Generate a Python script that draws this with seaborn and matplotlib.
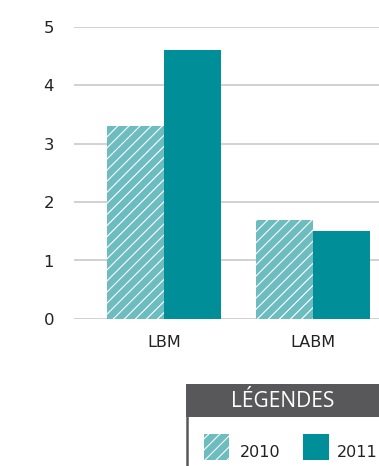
import matplotlib
matplotlib.use("Agg")
import matplotlib.pyplot as plt
import seaborn as sns
import pandas as pd
from matplotlib.patches import Rectangle
from matplotlib.lines import Line2D

categories = ["LBM", "LABM"]
years = ["2010", "2011"]
values_2010 = [3.3, 1.7]
values_2011 = [4.6, 1.5]
yticks = [0, 1, 2, 3, 4, 5]

color_2010 = "#6dbcc0"
color_2011 = "#008f98"

DPI = 133
W, H = 379, 466

def pt(px):
    return px * 72.0 / DPI

df = pd.DataFrame({
    "cat": categories * 2,
    "year": [years[0]] * 2 + [years[1]] * 2,
    "val": values_2010 + values_2011,
})

sns.set_theme(style="white")
plt.rcParams["font.family"] = ["DejaVu Sans"]
plt.rcParams["hatch.linewidth"] = 0.6

fig = plt.figure(figsize=((W + 0.4) / DPI, (H + 0.4) / DPI), dpi=DPI)
ax = fig.add_axes([74 / W, (H - 319) / H, 1 - 74 / W, 292 / H])

sns.barplot(data=df, x="cat", y="val", hue="year", order=categories,
            hue_order=years, palette=[color_2010, color_2011],
            width=0.77, ax=ax, legend=False, saturation=1, linewidth=0)

for bar in ax.containers[0]:
    bar.set_hatch("////")
    bar.set_edgecolor("white")
    bar.set_linewidth(0)

ax.set_xlim(-0.606, 1.448)
ax.set_ylim(0, 5)
ax.set_yticks(yticks)
ax.set_yticklabels([str(v) for v in yticks])
ax.yaxis.grid(True, color="#c8c8c8", linewidth=pt(1.6))
ax.set_axisbelow(True)
for s in ax.spines.values():
    s.set_visible(False)
ax.tick_params(axis="y", length=0, pad=pt(20), labelsize=pt(16.5), labelcolor="#222222")
ax.tick_params(axis="x", length=0, pad=pt(16), labelsize=pt(16), labelcolor="#222222")
ax.set_xlabel("")
ax.set_ylabel("")

# legend box
def fx(x):
    return x / W

def fy(y):
    return 1 - y / H

header = Rectangle((fx(186), fy(417)), fx(379) - fx(186), fy(384) - fy(417),
                   transform=fig.transFigure, facecolor="#58585a", edgecolor="none")
fig.patches.append(header)
fig.lines.append(Line2D([fx(187), fx(187)], [fy(417), fy(466)], transform=fig.transFigure,
                        color="#58585a", linewidth=pt(2.5)))
fig.text(fx(282), fy(401), "LÉGENDES", transform=fig.transFigure, color="white",
         fontsize=pt(21), ha="center", va="center", family=["Open Sans"])

p1 = Rectangle((fx(204), fy(460)), fx(229) - fx(204), fy(434) - fy(460),
               transform=fig.transFigure, facecolor=color_2010, edgecolor="white",
               linewidth=0, hatch="////")
p2 = Rectangle((fx(303), fy(460)), fx(329) - fx(303), fy(434) - fy(460),
               transform=fig.transFigure, facecolor=color_2011, edgecolor="none")
fig.patches.extend([p1, p2])
fig.text(fx(240), fy(452), years[0], transform=fig.transFigure, color="#222222",
         fontsize=pt(16), ha="left", va="center")
fig.text(fx(337), fy(452), years[1], transform=fig.transFigure, color="#222222",
         fontsize=pt(16), ha="left", va="center")

fig.savefig("out.png", dpi=DPI)
